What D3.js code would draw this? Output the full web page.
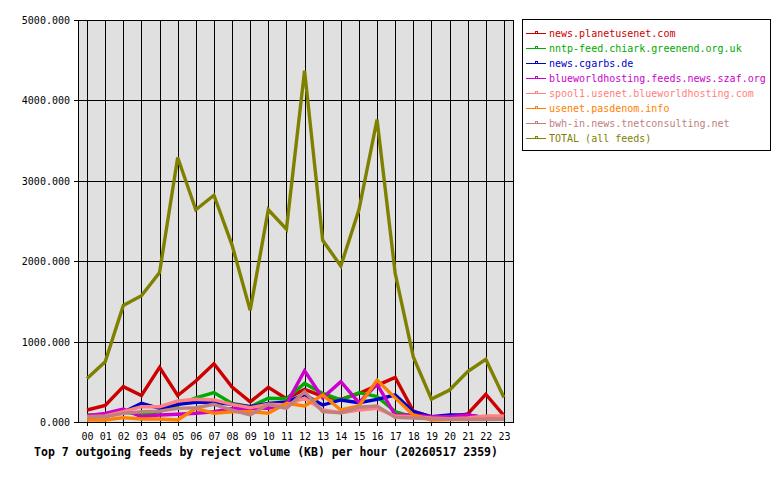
<!DOCTYPE html>
<html>
<head>
<meta charset="utf-8">
<script src="https://cdn.jsdelivr.net/npm/d3@7"></script>
<style>
  body { margin: 0; background: #fff; }
  text { font-family: "DejaVu Sans Mono", monospace; }
</style>
</head>
<body>
<div id="chart"></div>
<script>
const hours = ["00","01","02","03","04","05","06","07","08","09","10","11","12","13","14","15","16","17","18","19","20","21","22","23"];
const yTicks = [0, 1000, 2000, 3000, 4000, 5000];

const feedNames = [
  "news.planetusenet.com",
  "nntp-feed.chiark.greenend.org.uk",
  "news.cgarbs.de",
  "blueworldhosting.feeds.news.szaf.org",
  "spool1.usenet.blueworldhosting.com",
  "usenet.pasdenom.info",
  "bwh-in.news.tnetconsulting.net",
  "TOTAL (all feeds)"
];
const feedColors = ["#cc0000", "#00aa00", "#0000cc", "#cc00cc", "#ff8080", "#ff8000", "#c08080", "#808000"];

const planetusenet = [149, 205, 440, 330, 680, 330, 510, 725, 435, 250, 430, 290, 405, 320, 280, 355, 455, 555, 135, 62, 58, 100, 345, 80];
const chiark = [87, 90, 128, 90, 128, 211, 300, 365, 232, 190, 295, 290, 480, 355, 274, 365, 315, 130, 60, 40, 40, 40, 40, 40];
const cgarbs = [60, 70, 120, 232, 170, 220, 245, 245, 220, 190, 232, 250, 336, 211, 274, 240, 282, 336, 128, 66, 87, 87, 55, 50];
const szaf = [80, 108, 162, 66, 87, 96, 108, 128, 170, 170, 170, 225, 638, 300, 501, 240, 470, 87, 87, 66, 66, 87, 50, 60];
const spool1 = [66, 75, 128, 190, 190, 261, 282, 274, 220, 178, 220, 211, 298, 149, 116, 149, 170, 75, 66, 50, 40, 50, 75, 75];
const pasdenom = [25, 25, 54, 38, 38, 25, 170, 108, 128, 128, 108, 232, 199, 336, 149, 199, 522, 300, 87, 25, 30, 30, 30, 35];
const tnet = [66, 66, 108, 128, 135, 170, 178, 220, 149, 87, 220, 170, 377, 128, 116, 183, 199, 58, 50, 40, 35, 35, 35, 35];
const total = [540, 750, 1450, 1570, 1860, 3290, 2640, 2820, 2200, 1390, 2640, 2400, 4370, 2260, 1940, 2640, 3760, 1850, 810, 285, 398, 626, 780, 305];

const series = [planetusenet, chiark, cgarbs, szaf, spool1, pasdenom, tnet, total];

const w = 780, h = 480;
const plot = { left: 78, right: 513, top: 20, bottom: 422 };

const svg = d3.select("#chart").append("svg")
  .attr("width", w)
  .attr("height", h);

const x = d3.scalePoint().domain(hours).range([plot.left, plot.right]).padding(0.5),
      y = d3.scaleLinear().domain([0, 5000]).range([plot.bottom, plot.top]);

// plot background
svg.append("rect")
  .attr("x", plot.left).attr("y", plot.top)
  .attr("width", plot.right - plot.left).attr("height", plot.bottom - plot.top)
  .attr("fill", "#e0e0e0");

// grid
svg.append("g").selectAll("line").data(hours).enter().append("line")
  .attr("x1", d => Math.round(x(d)) + 0.5).attr("x2", d => Math.round(x(d)) + 0.5)
  .attr("y1", plot.top).attr("y2", plot.bottom + 4)
  .attr("stroke", "#000");

svg.append("g").selectAll("line").data(yTicks).enter().append("line")
  .attr("x1", plot.left - 4).attr("x2", plot.right)
  .attr("y1", d => Math.round(y(d)) + 0.5).attr("y2", d => Math.round(y(d)) + 0.5)
  .attr("stroke", "#000");

// frame
svg.append("rect")
  .attr("x", plot.left + 0.5).attr("y", plot.top + 0.5)
  .attr("width", plot.right - plot.left).attr("height", plot.bottom - plot.top)
  .attr("fill", "none").attr("stroke", "#000");

// axis labels
svg.append("g").selectAll("text").data(yTicks).enter().append("text")
  .attr("x", 70).attr("y", d => y(d) + 4)
  .attr("text-anchor", "end").attr("font-size", 10)
  .text(d => d3.format(".3f")(d));

svg.append("g").selectAll("text").data(hours).enter().append("text")
  .attr("x", d => x(d) + 0.5).attr("y", 440)
  .attr("text-anchor", "middle").attr("font-size", 10)
  .text(d => d);

svg.append("text")
  .attr("x", 266).attr("y", 456)
  .attr("text-anchor", "middle").attr("font-size", 11.5).attr("font-weight", "bold")
  .text("Top 7 outgoing feeds by reject volume (KB) per hour (20260517 2359)");

// lines
const line = d3.line()
  .x((d, i) => x(hours[i]))
  .y(d => y(d));

series.forEach((s, i) => {
  svg.append("path")
    .datum(s)
    .attr("fill", "none")
    .attr("stroke", feedColors[i])
    .attr("stroke-width", 3.4)
    .attr("stroke-linejoin", "miter")
    .attr("d", line);
});

// legend
const legend = svg.append("g");
legend.append("rect")
  .attr("x", 522.5).attr("y", 19.5)
  .attr("width", 248).attr("height", 131)
  .attr("fill", "#fff").attr("stroke", "#000");

feedNames.forEach((name, i) => {
  const ly = 33.5 + i * 15;
  legend.append("line")
    .attr("x1", 526).attr("x2", 546)
    .attr("y1", ly).attr("y2", ly)
    .attr("stroke", feedColors[i]);
  legend.append("rect")
    .attr("x", 535.5).attr("y", ly - 2)
    .attr("width", 2).attr("height", 2)
    .attr("fill", "none").attr("stroke", feedColors[i]);
  legend.append("text")
    .attr("x", 549).attr("y", ly + 3.5)
    .attr("font-size", 10)
    .attr("fill", feedColors[i])
    .text(name);
});
</script>
</body>
</html>
